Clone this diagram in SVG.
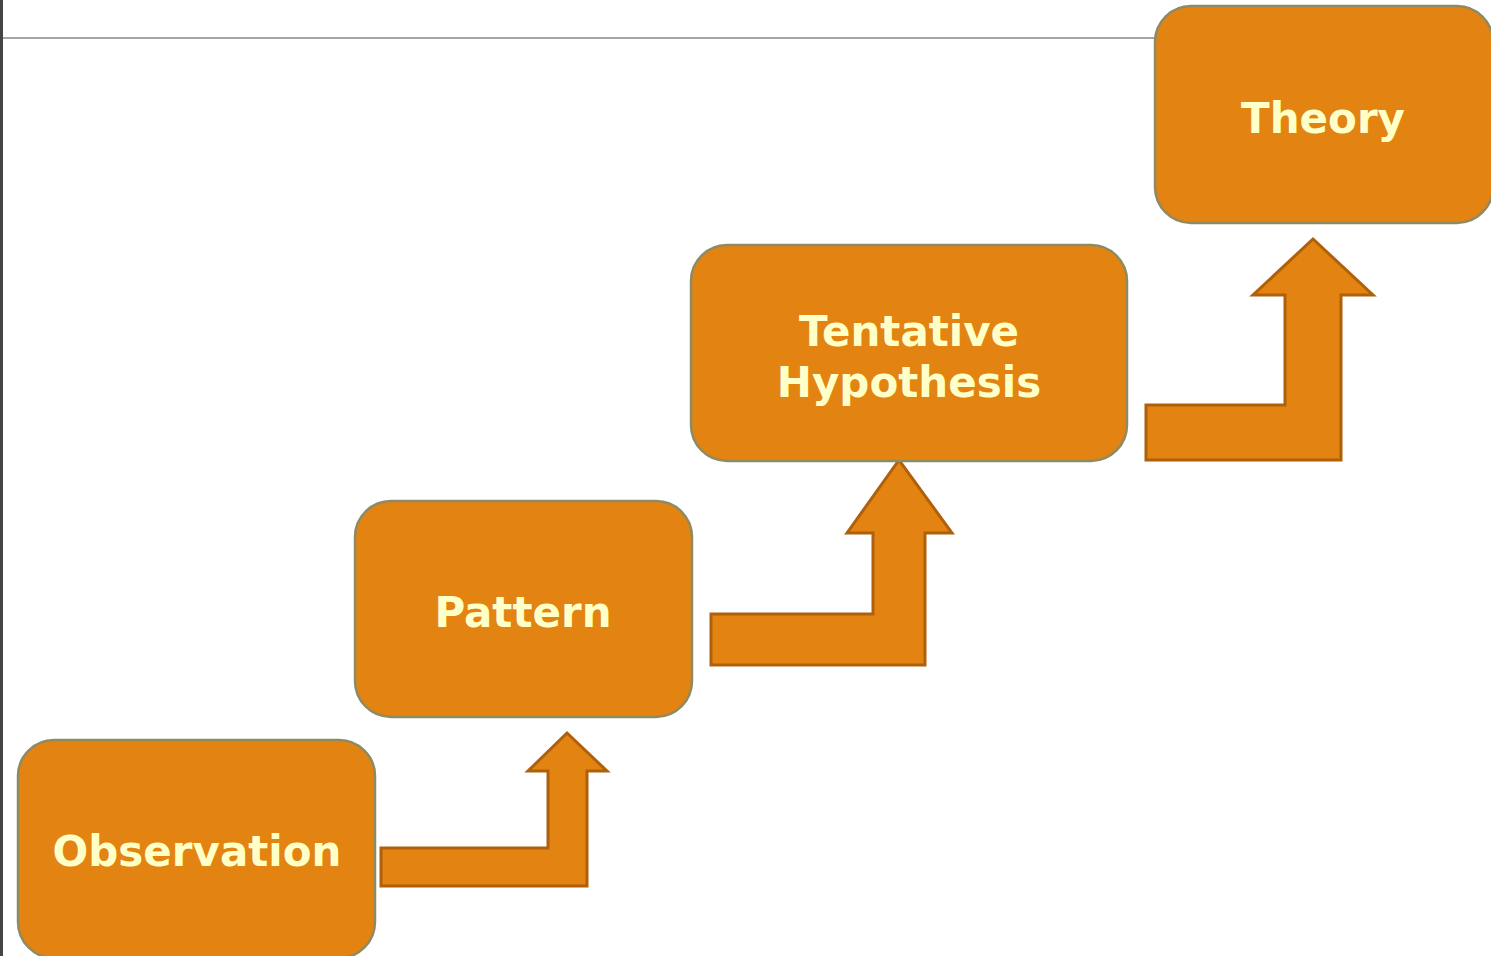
<svg xmlns="http://www.w3.org/2000/svg" width="1491" height="956" viewBox="0 0 1491 956">
<style>
.node{fill:#E38312;stroke:#8E8A62;stroke-width:2.5}
.lbl{font-family:"DejaVu Sans",Verdana,sans-serif;font-weight:bold;font-size:42px;fill:#FFFFC8;text-anchor:middle}
.arr{fill:#E38312;stroke:#B0600A;stroke-width:3}
</style>
<rect x="0" y="0" width="1491" height="956" fill="#ffffff"/>
<line x1="1.5" y1="0" x2="1.5" y2="956" stroke="#444444" stroke-width="3"/>
<line x1="3" y1="38" x2="1160" y2="38" stroke="#888888" stroke-width="1.5"/>
<g id="connectors">
<polygon class="arr" points="381,848 548,848 548,771 528,771 567,733 607,771 587,771 587,886 381,886"/>
<polygon class="arr" points="711,614 873,614 873,533 847,533 899,460 952,533 925,533 925,665 711,665"/>
<polygon class="arr" points="1146,405 1285,405 1285,295 1253,295 1313,239 1373,295 1341,295 1341,460 1146,460"/>
</g>
<g id="observation">
<rect class="node" x="18" y="740" width="357" height="218" rx="36"/>
<text class="lbl" x="197" y="866">Observation</text>
</g>
<g id="pattern">
<rect class="node" x="355" y="501" width="337" height="216" rx="36"/>
<text class="lbl" x="523" y="627">Pattern</text>
</g>
<g id="hypothesis">
<rect class="node" x="691" y="245" width="436" height="216" rx="36"/>
<text class="lbl" x="909" y="346">Tentative</text>
<text class="lbl" x="909" y="397">Hypothesis</text>
</g>
<g id="theory">
<rect class="node" x="1155" y="6" width="338" height="217" rx="36"/>
<text class="lbl" x="1323" y="133">Theory</text>
</g>
</svg>
